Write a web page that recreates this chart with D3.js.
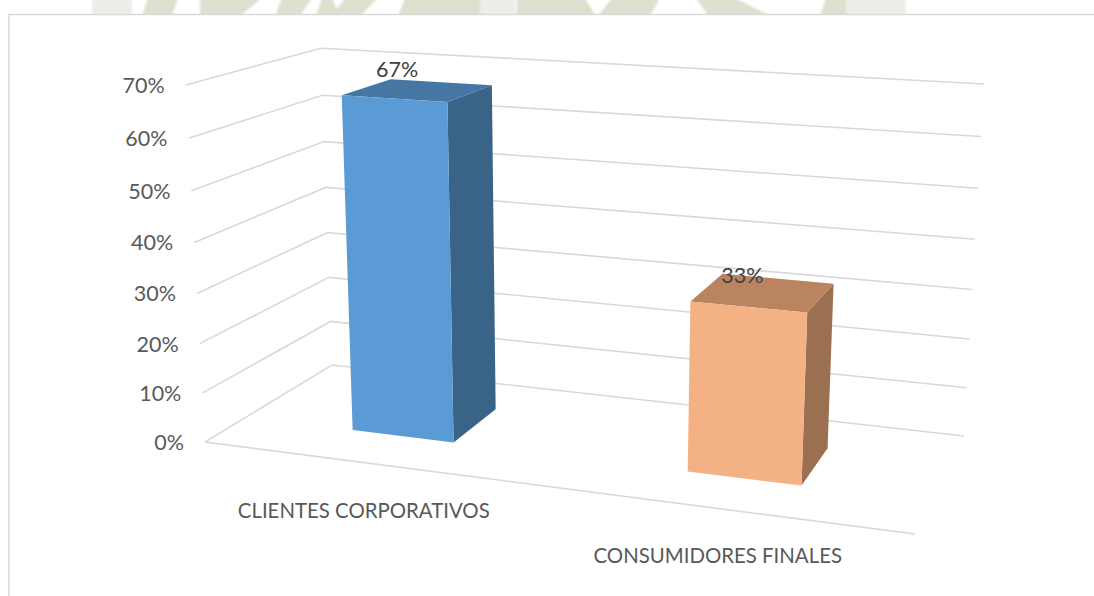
<!DOCTYPE html>
<html><head><meta charset="utf-8">
<script src="https://cdn.jsdelivr.net/npm/d3@7"></script>
<style>html,body{margin:0;background:#fff}svg{display:block}</style></head>
<body><svg id="c" width="1094" height="596"></svg>
<script>
const categories = ["CLIENTES CORPORATIVOS", "CONSUMIDORES FINALES"];
const values = [67, 33];
const valueLabels = ["67%", "33%"];
const tickValues = [0, 10, 20, 30, 40, 50, 60, 70];
const frontColors = ["#5b9bd5", "#f4b183"];
const topColors = ["#4676a3", "#ba8460"];
const sideColors = ["#396387", "#9a7050"];
const valueLabelDy = [-19, -15];

const svg = d3.select("#c");
const font = "Lato, Carlito, sans-serif";

// floor corners of the 3D box: front-left, front-right, back-right, back-left
const floorQuad = [[205,442],[915,534],[964,436],[332,365]];
// perspective terms for height (full axis height)
const heightX = -28.5, heightY = -361.2, heightW = -0.0494;

function projector(q){
  const [[x0,y0],[x1,y1],[x2,y2],[x3,y3]] = q;
  const dx1=x1-x2, dx2=x3-x2, sx=x0-x1+x2-x3, dy1=y1-y2, dy2=y3-y2, sy=y0-y1+y2-y3;
  const det=dx1*dy2-dx2*dy1;
  const g=(sx*dy2-dx2*sy)/det, h=(dx1*sy-sx*dy1)/det;
  const a=x1-x0+g*x1, b=x3-x0+h*x3, d=y1-y0+g*y1, e=y3-y0+h*y3;
  return (u,w,t)=>{
    const k=g*u+h*w+1+heightW*t;
    return [(a*u+b*w+x0+heightX*t)/k,(d*u+e*w+y0+heightY*t)/k];
  };
}
const project = projector(floorQuad);
const yScale = d3.scaleLinear().domain([0,70]).range([0,1]);
const uScale = d3.scaleBand().domain(categories).range([0,1]).paddingInner(0.686).paddingOuter(0.343);
const wBand = [0.3,0.7];
const P = (u,w,v) => project(u,w,yScale(v));
const line = d3.line();

// watermark strip behind the chart frame
const wmDark = [[148,178,172,142],[200,262,240,200],[282,312,300,275],[322,332,340,316],[345,378,360,332],[405,480,480,398],[517,585,596,517],[612,660,650,598],[696,735,770,708],[826,846,846,820]];
const wmLight = [[92,132,132,92],[478,516,516,478],[846,906,906,846]];
const wm = svg.append("g").style("filter","blur(0.8px)");
const band = (arr,col)=>wm.append("g").selectAll("path").data(arr).join("path")
  .attr("d",d=>line([[d[0],-2],[d[1],-2],[d[2],16],[d[3],16]])+"Z").attr("fill",col);
band(wmLight,"#eeeee8");
band(wmDark,"#dfdfd0");
svg.append("rect").attr("x",0).attr("y",14).attr("width",1094).attr("height",582).attr("fill","#fff");
svg.append("path").attr("d","M9 596V14.5H1094").attr("fill","none").attr("stroke","#d9d9d9").attr("stroke-width",1.5);

// gridlines
svg.append("g").selectAll("path").data(tickValues).join("path")
  .attr("d",v=>line([P(0,0,v),P(0,1,v),P(1,1,v)]))
  .attr("fill","none").attr("stroke","#d9d9d9").attr("stroke-width",1.6);
svg.append("path").attr("d",line([P(0,0,0),P(1,0,0)])).attr("fill","none").attr("stroke","#d9d9d9").attr("stroke-width",1.6);

// tick labels
svg.append("g").selectAll("text").data(tickValues).join("text")
  .attr("x",v=>P(0,0,v)[0]-21).attr("y",v=>P(0,0,v)[1]+2.5)
  .attr("text-anchor","end").attr("dominant-baseline","middle")
  .attr("font-family",font).attr("font-size",21.5).attr("fill","#595959")
  .text(v=>v+"%");

// bars
const bars = svg.append("g").selectAll("g").data(categories).join("g");
bars.each(function(c,i){
  const g=d3.select(this), u0=uScale(c), u1=u0+uScale.bandwidth(), [w0,w1]=wBand, v=values[i];
  g.append("path").attr("d",line([P(u1,w0,0),P(u1,w1,0),P(u1,w1,v),P(u1,w0,v)])+"Z").attr("fill",sideColors[i]);
  g.append("path").attr("d",line([P(u0,w0,v),P(u1,w0,v),P(u1,w1,v),P(u0,w1,v)])+"Z").attr("fill",topColors[i]);
  g.append("path").attr("d",line([P(u0,w0,0),P(u1,w0,0),P(u1,w0,v),P(u0,w0,v)])+"Z").attr("fill",frontColors[i]);
  const t=P((u0+u1)/2,(w0+w1)/2,v);
  g.append("text").attr("x",t[0]-21).attr("y",t[1]+valueLabelDy[i]).attr("text-anchor","middle").attr("dominant-baseline","middle")
    .attr("font-family",font).attr("font-size",21.5).attr("fill","#404040").text(valueLabels[i]);
  const base=P((u0+u1)/2,0,0);
  g.append("text").attr("x",base[0]-2.5).attr("y",base[1]+49.5).attr("text-anchor","middle").attr("dominant-baseline","middle")
    .attr("font-family",font).attr("font-size",20.4).attr("fill","#595959").text(c);
});
</script></body></html>
